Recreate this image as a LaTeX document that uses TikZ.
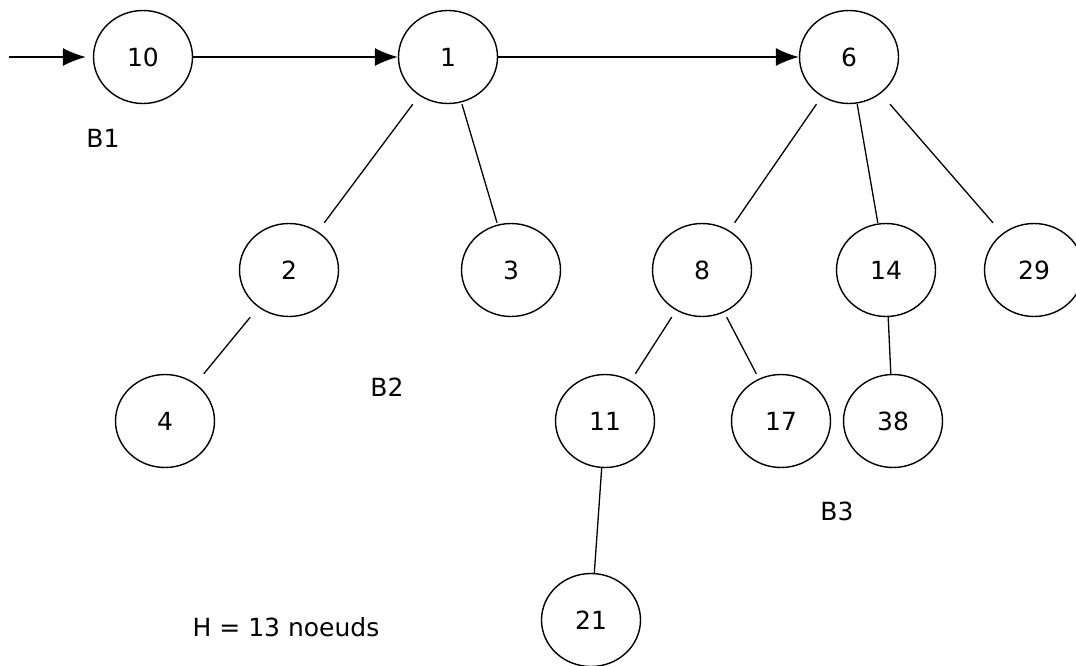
\documentclass[tikz,border=0pt]{standalone}
\usepackage{fontspec}
\setmainfont{DejaVu Sans}
\usetikzlibrary{shapes,arrows.meta,calc}
\tikzstyle{state} = [ellipse, draw, line width=0.7pt,
    minimum width=49.5pt, minimum height=46.5pt, inner sep=0pt]
\tikzstyle{line} = [draw, line width=0.7pt, -{Latex[length=11.5pt,width=9pt]}]
\tikzstyle{tag} = [inner sep=0pt]
% tree edge: runs on the centre line, from the parent's bottom level to the child's top level
\newcommand{\branchto}[2]{%
    \path [draw, line width=0.65pt] let \p1=(#1), \p2=(#2), \p3=(#1.south), \p4=(#2.north),
        \n1={scalar((\y1-\y3)/(\y1-\y2))}, \n2={scalar((\y1-\y4)/(\y1-\y2))} in
        ($(#1)!\n1!(#2)$) -- ($(#1)!\n2!(#2)$);}

\begin{document}
\begin{tikzpicture}[x=0.5pt, y=-0.5pt, font=\fontsize{12.5}{15}\selectfont]
    \useasboundingbox (0,0) rectangle (1076,665);
    % Place nodes
    \node [state] (n10) at (143,57) {10};
    \node [state] (n1) at (448,57) {1};
    \node [state] (n6) at (849,57) {6};
    \node [state] (n2) at (289,270) {2};
    \node [state] (n3) at (511,270) {3};
    \node [state] (n8) at (702,270) {8};
    \node [state] (n14) at (886,270) {14};
    \node [state] (n29) at (1034,270) {29};
    \node [state] (n4) at (165,421) {4};
    \node [state] (n11) at (605,421) {11};
    \node [state] (n17) at (781,421) {17};
    \node [state] (n38) at (893,421) {38};
    \node [state] (n21) at (591,620) {21};
    % Tree names and size
    \node [tag] (b1) at (103,138) {B1};
    \node [tag] (b2) at (387,387) {B2};
    \node [tag] (b3) at (837,511) {B3};
    \node [tag] (size) at (286,627) {H = 13 noeuds};
    \coordinate (head) at (9,57);
    % Root list
    \path [line, shorten >=3.5pt] (head) -- (n10);
    \path [line] (n10) -- (n1);
    \path [line] (n1) -- (n6);
    % Draw edges
    \branchto{n1}{n2}
    \branchto{n1}{n3}
    \branchto{n2}{n4}
    \branchto{n6}{n8}
    \branchto{n6}{n14}
    \branchto{n6}{n29}
    \branchto{n8}{n11}
    \branchto{n8}{n17}
    \branchto{n14}{n38}
    \branchto{n11}{n21}
\end{tikzpicture}
\end{document}
